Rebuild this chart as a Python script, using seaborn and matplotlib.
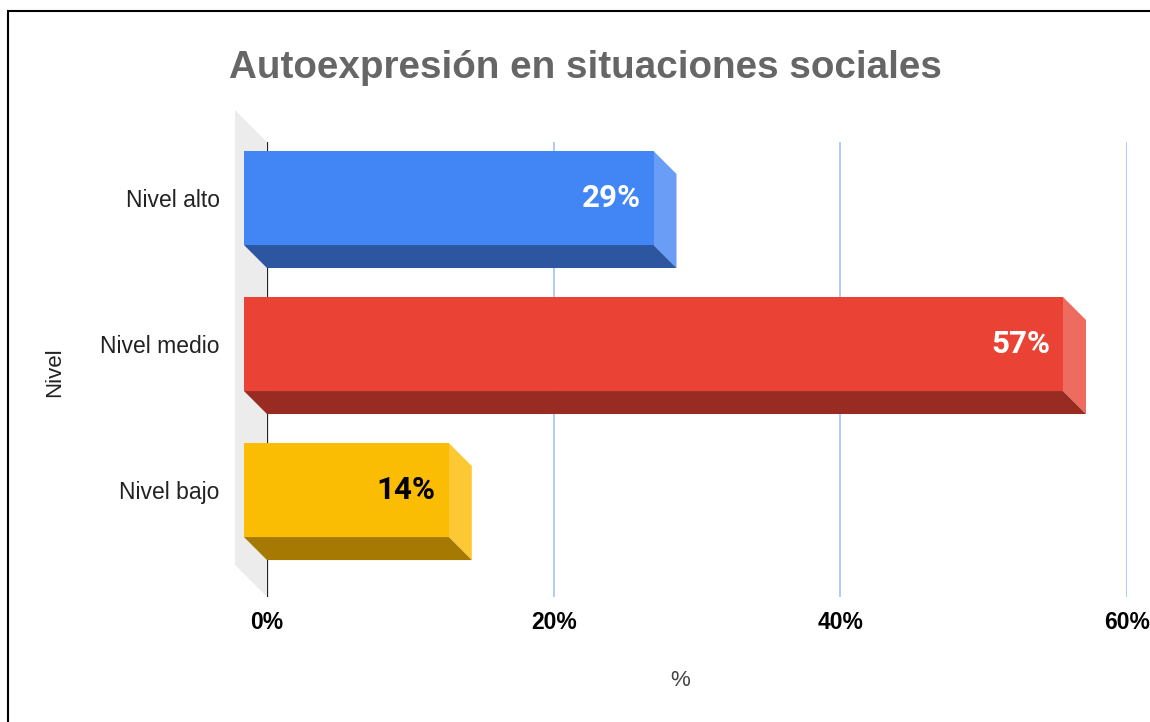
import matplotlib
matplotlib.use('Agg')
import matplotlib.pyplot as plt
from matplotlib.patches import Polygon, Rectangle
import pandas as pd
import seaborn as sns

# Datos del gráfico
categorias = ['Nivel alto', 'Nivel medio', 'Nivel bajo']
porcentajes = [28.57, 57.14, 14.29]
etiquetas = ['29%', '57%', '14%']

# Colores: cara frontal, lateral y inferior
color_frente = ['#4285F4', '#EA4335', '#FBBC04']
color_lado = ['#6a9ef6', '#ee6b60', '#fcc935']
color_base = ['#2c56a0', '#982c23', '#a67a02']
color_texto = ['white', 'white', 'black']

titulo = 'Autoexpresión en situaciones sociales'

sns.set_theme(style='white')
plt.rcParams['font.family'] = ['Liberation Sans', 'DejaVu Sans']

W, H = 1150, 722
fig = plt.figure(figsize=(W / 100, H / 100), dpi=100)
ax = fig.add_axes([267 / W, (H - 597) / H, 860 / W, 455 / H])

df = pd.DataFrame({'categoria': categorias, 'valor': porcentajes})
sns.barplot(data=df, x='valor', y='categoria', hue='categoria', palette=color_frente,
            orient='h', width=0.644, saturation=1, legend=False, ax=ax, zorder=2)

ax.set_xlim(0, 60)
ax.set_ylim(2.575, -0.541)

# Profundidad del efecto 3D en unidades de datos
dx = 23 * 60 / 860
dy = 23 * (2.575 + 0.541) / 455
dxw = 32 * 60 / 860
dyw = 32 * (2.575 + 0.541) / 455

# Pared gris a la izquierda
ax.add_patch(Polygon([(-dxw, -0.541 - dyw), (0, -0.541), (0, 2.575), (-dxw, 2.575 - dyw)],
                     closed=True, facecolor='#ececec', edgecolor='none', clip_on=False, zorder=0.3))
ax.axvline(0, color='#222222', lw=1.6, zorder=0.8)

bars = sorted(ax.patches[:3], key=lambda p: p.get_y())
for i, p in enumerate(bars):
    if not isinstance(p, Rectangle):
        continue
    x0, y0, w, h = p.get_x(), p.get_y(), p.get_width(), p.get_height()
    lado = Polygon([(x0 + w - dx, y0 - dy), (x0 + w, y0), (x0 + w, y0 + h), (x0 + w - dx, y0 + h - dy)],
                   closed=True, facecolor=color_lado[i], edgecolor='none', clip_on=False, zorder=1.5)
    base = Polygon([(x0 - dx, y0 + h - dy), (x0 + w - dx, y0 + h - dy), (x0 + w, y0 + h), (x0, y0 + h)],
                   closed=True, facecolor=color_base[i], edgecolor='none', clip_on=False, zorder=1.5)
    ax.add_patch(lado)
    ax.add_patch(base)
    # cara frontal desplazada
    p.set_x(x0 - dx)
    p.set_y(y0 - dy)
    p.set_clip_on(False)
    p.set_edgecolor('none')
    ax.text(x0 + w - dx - 13 * 60 / 860, y0 - dy + h / 2, etiquetas[i], ha='right', va='center',
            fontsize=22.5, fontweight='bold', color=color_texto[i], family=['Roboto', 'DejaVu Sans'],
            zorder=3)

ax.set_yticks([k - dy for k in range(len(categorias))], categorias)
ax.set_xticks([0, 20, 40, 60], ['0%', '20%', '40%', '60%'])
ax.tick_params(axis='y', length=0, pad=34, labelsize=16.5, labelcolor='#222222')
ax.tick_params(axis='x', length=0, pad=10, labelsize=16.5, labelcolor='black')
for lbl in ax.get_xticklabels():
    lbl.set_fontweight('bold')

ax.xaxis.grid(True, color='#a8c7fa', lw=1.3)
ax.yaxis.grid(False)
ax.set_axisbelow(True)
for s in ax.spines.values():
    s.set_visible(False)

ax.set_xlabel('%', fontsize=16, color='#444444')
ax.xaxis.set_label_coords((680 - 267) / 860, -(681 - 597) / 455)
ax.xaxis.label.set_va('center')
ax.set_ylabel('Nivel', fontsize=16, color='#222222')
ax.yaxis.set_label_coords((55 - 267) / 860, (597 - 372) / 455)
ax.yaxis.label.set_va('center')

fig.text(585 / W, 1 - 78 / H, titulo, ha='center', va='baseline', fontsize=27.8,
         fontweight='bold', color='#666666')

# Marco exterior
fig.add_artist(Rectangle((8 / W, -0.1), 2, 1 - 11 / H + 0.1, transform=fig.transFigure,
                         fill=False, edgecolor='black', lw=1.5))

fig.savefig('out.png', dpi=100)
